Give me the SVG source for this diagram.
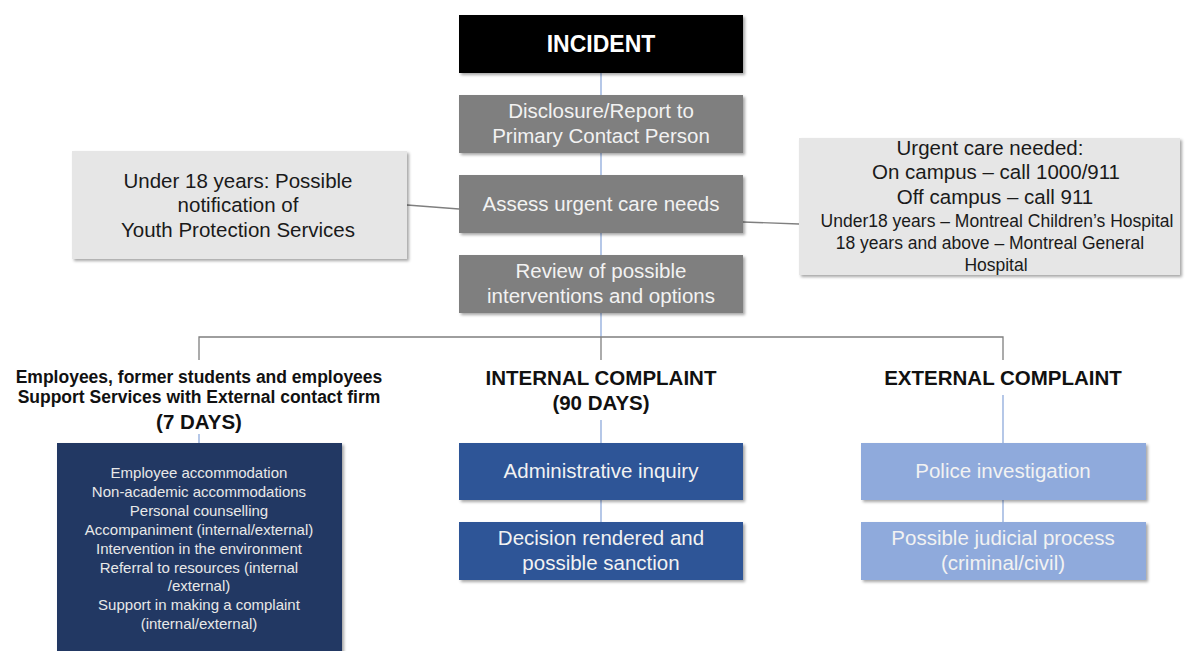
<svg xmlns="http://www.w3.org/2000/svg" width="1185" height="651" viewBox="0 0 1185 651">
<style>
text{font-family:"Liberation Sans",Arial,sans-serif;text-anchor:middle}
.w{fill:#f2f2f2;font-size:20.5px}
.d{fill:#1a1a1a;font-size:20.5px}
.ds{fill:#1a1a1a;font-size:17.5px}
.h{fill:#111;font-weight:bold;font-size:20.5px}
.hs{fill:#111;font-weight:bold;font-size:17.5px}
.n{fill:#e8e8e8;font-size:15px}
.gray{fill:#7f7f7f}
.light{fill:#e6e6e6}
.conn{stroke:#7f7f7f;stroke-width:1.3;fill:none}
.blue{stroke:#8eaadb;stroke-width:1.3;fill:none}
</style>
<defs>
<filter id="sh" x="-5%" y="-5%" width="115%" height="120%">
<feDropShadow dx="2" dy="2" stdDeviation="1.5" flood-color="#000" flood-opacity="0.35"/>
</filter>
</defs>
<rect width="1185" height="651" fill="#fff"/>
<g id="connectors">
<line class="blue" x1="601" y1="73" x2="601" y2="95"/>
<line class="blue" x1="601" y1="153" x2="601" y2="175"/>
<line class="blue" x1="601" y1="233" x2="601" y2="255"/>
<line class="blue" x1="601" y1="313" x2="601" y2="337"/>
<path class="conn" d="M407 205 L459 209"/>
<path class="conn" d="M743 222 L799 224"/>
<path class="conn" d="M199 360 V337 H1003 V360"/>
<line class="conn" x1="601" y1="337" x2="601" y2="360"/>
<line class="blue" x1="199" y1="434" x2="199" y2="443"/>
<line class="blue" x1="601" y1="420" x2="601" y2="443"/>
<line class="blue" x1="601" y1="500" x2="601" y2="522"/>
<line class="blue" x1="1003" y1="395" x2="1003" y2="443"/>
<line class="blue" x1="1003" y1="500" x2="1003" y2="522"/>
</g>
<g id="incident">
<rect x="459" y="15" width="284" height="58" fill="#000" filter="url(#sh)"/>
<text x="601" y="52" fill="#fff" font-weight="bold" font-size="23">INCIDENT</text>
</g>
<g id="disclosure">
<rect class="gray" x="459" y="95" width="284" height="58" filter="url(#sh)"/>
<text class="w" x="601" y="118">Disclosure/Report to</text>
<text class="w" x="601" y="143">Primary Contact Person</text>
</g>
<g id="assess">
<rect class="gray" x="459" y="175" width="284" height="58" filter="url(#sh)"/>
<text class="w" x="601" y="211">Assess urgent care needs</text>
</g>
<g id="review">
<rect class="gray" x="459" y="255" width="284" height="58" filter="url(#sh)"/>
<text class="w" x="601" y="278">Review of possible</text>
<text class="w" x="601" y="303">interventions and options</text>
</g>
<g id="youth">
<rect class="light" x="72" y="151" width="335" height="108" filter="url(#sh)"/>
<text class="d" x="238" y="188">Under 18 years: Possible</text>
<text class="d" x="238" y="212">notification of</text>
<text class="d" x="238" y="237">Youth Protection Services</text>
</g>
<g id="urgent">
<rect class="light" x="799" y="138" width="381" height="137" filter="url(#sh)"/>
<text class="d" x="990" y="155">Urgent care needed:</text>
<text class="d" x="996" y="179">On campus – call 1000/911</text>
<text class="d" x="995" y="204">Off campus – call 911</text>
<text class="ds" x="997" y="227">Under18 years – Montreal Children’s Hospital</text>
<text class="ds" x="990" y="249">18 years and above – Montreal General</text>
<text class="ds" x="996" y="271">Hospital</text>
</g>
<g id="employees-heading">
<text class="hs" x="199" y="383">Employees,  former students and employees</text>
<text class="hs" x="199" y="403">Support Services with External contact firm</text>
<text class="h" x="199" y="429">(7 DAYS)</text>
</g>
<g id="internal-heading">
<text class="h" x="601" y="385">INTERNAL COMPLAINT</text>
<text class="h" x="601" y="410">(90 DAYS)</text>
</g>
<g id="external-heading">
<text class="h" x="1003" y="385">EXTERNAL COMPLAINT</text>
</g>
<g id="support-services">
<rect x="57" y="443" width="285" height="215" fill="#203864" filter="url(#sh)"/>
<text class="n" x="199" y="478">Employee accommodation</text>
<text class="n" x="199" y="497">Non-academic  accommodations</text>
<text class="n" x="199" y="516">Personal counselling</text>
<text class="n" x="199" y="535">Accompaniment  (internal/external)</text>
<text class="n" x="199" y="554">Intervention  in the environment</text>
<text class="n" x="199" y="573">Referral to resources (internal</text>
<text class="n" x="199" y="591">/external)</text>
<text class="n" x="199" y="610">Support in making a complaint</text>
<text class="n" x="199" y="629">(internal/external)</text>
</g>
<g id="admin-inquiry">
<rect x="459" y="443" width="284" height="57" fill="#2f5597" filter="url(#sh)"/>
<text class="w" x="601" y="478">Administrative inquiry</text>
</g>
<g id="decision">
<rect x="459" y="522" width="284" height="58" fill="#2f5597" filter="url(#sh)"/>
<text class="w" x="601" y="545">Decision rendered and</text>
<text class="w" x="601" y="570">possible sanction</text>
</g>
<g id="police">
<rect x="861" y="443" width="285" height="57" fill="#8faadc" filter="url(#sh)"/>
<text class="w" x="1003" y="478">Police investigation</text>
</g>
<g id="judicial">
<rect x="861" y="522" width="285" height="58" fill="#8faadc" filter="url(#sh)"/>
<text class="w" x="1003" y="545">Possible judicial process</text>
<text class="w" x="1003" y="570">(criminal/civil)</text>
</g>
</svg>
